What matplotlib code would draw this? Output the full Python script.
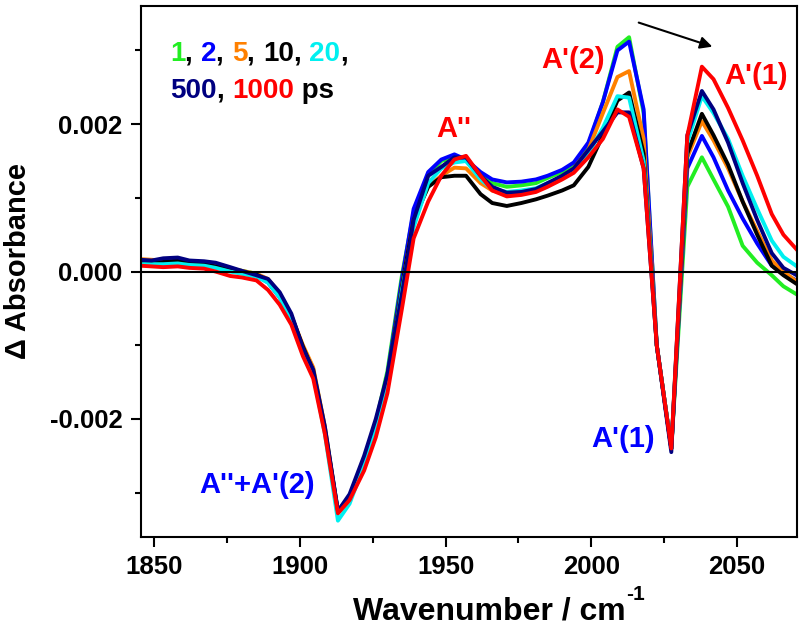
"""Time-resolved IR difference spectra (Delta absorbance vs wavenumber)."""

import matplotlib
matplotlib.use("Agg")
import matplotlib.pyplot as plt
import numpy as np
from matplotlib.offsetbox import AnchoredOffsetbox, HPacker, TextArea, VPacker
from matplotlib.ticker import FormatStrFormatter, MultipleLocator

plt.rcParams["font.family"] = ["Liberation Sans", "DejaVu Sans"]
plt.rcParams["font.weight"] = "bold"
plt.rcParams["axes.unicode_minus"] = False

# wavenumber grid, cm-1
wavenumber = [
    1845, 1849, 1853, 1858, 1862, 1867, 1871, 1876, 1880, 1885,
    1889, 1893, 1897, 1901, 1904.5, 1908.5, 1913, 1917, 1922, 1926,
    1930, 1935, 1939, 1944, 1948.5, 1953, 1957, 1962, 1966, 1971,
    1976, 1981, 1985, 1990, 1994, 1999, 2004, 2009, 2013, 2018,
    2022.5, 2027.5, 2033, 2038, 2042, 2047, 2052, 2057, 2062, 2066,
    2071,
]

# delta absorbance in units of 1e-3
abs_1ps = [
    0.12, 0.12, 0.12, 0.14, 0.12, 0.11, 0.08, 0.04, 0.01, -0.03,
    -0.12, -0.32, -0.62, -1.02, -1.32, -2.12, -3.25, -3.07, -2.55, -2.05,
    -1.35, -0.05, 0.80, 1.30, 1.50, 1.55, 1.50, 1.32, 1.20, 1.15,
    1.17, 1.20, 1.27, 1.35, 1.45, 1.72, 2.30, 3.05, 3.18, 2.15,
    -1.00, -2.40, 1.15, 1.55, 1.25, 0.88, 0.35, 0.12, -0.05, -0.20,
    -0.32,
]
abs_2ps = [
    0.15, 0.14, 0.14, 0.17, 0.12, 0.12, 0.08, 0.03, 0.00, -0.05,
    -0.15, -0.35, -0.65, -1.05, -1.35, -2.15, -3.25, -3.05, -2.60, -2.10,
    -1.40, -0.10, 0.85, 1.35, 1.52, 1.59, 1.52, 1.35, 1.25, 1.21,
    1.22, 1.25, 1.30, 1.38, 1.48, 1.75, 2.30, 3.00, 3.12, 2.20,
    -1.00, -2.40, 1.40, 1.84, 1.55, 1.10, 0.72, 0.38, 0.08, -0.03,
    -0.13,
]
abs_5ps = [
    0.17, 0.16, 0.15, 0.14, 0.13, 0.12, 0.09, 0.04, 0.01, -0.03,
    -0.10, -0.30, -0.60, -1.00, -1.30, -2.10, -3.28, -3.08, -2.60, -2.10,
    -1.45, -0.20, 0.70, 1.15, 1.30, 1.41, 1.40, 1.20, 1.10, 1.05,
    1.07, 1.10, 1.17, 1.27, 1.40, 1.65, 2.15, 2.64, 2.72, 1.80,
    -1.00, -2.40, 1.55, 2.04, 1.78, 1.40, 0.95, 0.55, 0.15, 0.00,
    -0.15,
]
abs_10ps = [
    0.12, 0.12, 0.13, 0.15, 0.11, 0.10, 0.07, 0.03, 0.00, -0.04,
    -0.12, -0.30, -0.60, -1.02, -1.35, -2.15, -3.27, -3.07, -2.58, -2.10,
    -1.45, -0.20, 0.70, 1.15, 1.28, 1.30, 1.30, 1.05, 0.93, 0.89,
    0.93, 0.98, 1.03, 1.10, 1.17, 1.42, 1.85, 2.32, 2.43, 1.60,
    -1.00, -2.40, 1.60, 2.14, 1.85, 1.45, 0.95, 0.50, 0.08, -0.05,
    -0.18,
]
abs_20ps = [
    0.10, 0.10, 0.10, 0.11, 0.09, 0.08, 0.05, 0.00, -0.03, -0.07,
    -0.15, -0.35, -0.65, -1.08, -1.38, -2.20, -3.38, -3.15, -2.62, -2.15,
    -1.50, -0.25, 0.60, 1.20, 1.40, 1.48, 1.50, 1.25, 1.12, 1.08,
    1.10, 1.13, 1.20, 1.28, 1.38, 1.60, 1.95, 2.38, 2.36, 1.50,
    -1.00, -2.40, 1.75, 2.38, 2.15, 1.80, 1.30, 0.85, 0.42, 0.20,
    0.06,
]
abs_500ps = [
    0.16, 0.15, 0.18, 0.19, 0.15, 0.14, 0.12, 0.06, 0.01, -0.05,
    -0.10, -0.28, -0.57, -1.04, -1.33, -2.10, -3.25, -3.02, -2.50, -2.00,
    -1.40, -0.30, 0.70, 1.30, 1.42, 1.55, 1.55, 1.30, 1.15, 1.07,
    1.08, 1.12, 1.20, 1.30, 1.40, 1.65, 1.90, 2.16, 2.16, 1.40,
    -1.00, -2.45, 1.85, 2.45, 2.20, 1.75, 1.20, 0.70, 0.25, 0.05,
    -0.06,
]
abs_1000ps = [
    0.08, 0.07, 0.06, 0.07, 0.05, 0.04, 0.00, -0.06, -0.08, -0.12,
    -0.25, -0.45, -0.72, -1.15, -1.45, -2.20, -3.28, -3.10, -2.70, -2.25,
    -1.65, -0.50, 0.45, 0.95, 1.30, 1.52, 1.57, 1.30, 1.10, 1.02,
    1.04, 1.08, 1.15, 1.25, 1.34, 1.55, 1.80, 2.20, 2.10, 1.40,
    -1.00, -2.40, 1.84, 2.78, 2.61, 2.22, 1.78, 1.30, 0.78, 0.50,
    0.28,
]

delay_labels = ["1", "2", "5", "10", "20", "500", "1000"]
series = [abs_1ps, abs_2ps, abs_5ps, abs_10ps, abs_20ps, abs_500ps, abs_1000ps]
colors = ["#22ee22", "#0000ff", "#ff8000", "#000000", "#00f0f0", "#000080", "#ff0000"]

BLUE = "#0000ff"
RED = "#ff0000"

fig = plt.figure(figsize=(8, 6.25), dpi=100)
ax = fig.add_axes([0.176, 0.141, 0.820, 0.849])

for values, color in zip(series, colors):
    ax.plot(wavenumber, np.array(values) * 1e-3, color=color, lw=2.8, zorder=2)

ax.axhline(0, color="black", lw=1.5, zorder=3)

ax.set_xlim(1845.3, 2070.6)
ax.set_ylim(-0.0036, 0.0036)
ax.xaxis.set_major_locator(MultipleLocator(50))
ax.xaxis.set_minor_locator(MultipleLocator(25))
ax.yaxis.set_major_locator(MultipleLocator(0.002))
ax.yaxis.set_minor_locator(MultipleLocator(0.001))
ax.yaxis.set_major_formatter(FormatStrFormatter("%.3f"))

for side in ax.spines.values():
    side.set_linewidth(1.5)
ax.tick_params(which="major", direction="out", length=7, width=1.5,
               labelsize=18.5, pad=6)
ax.tick_params(which="minor", direction="out", length=4.5, width=1.5)

# axis titles; the -1 exponent is set as its own text so it keeps a plain hyphen
ax.set_xlabel("Wavenumber / cm", fontsize=23, fontweight="bold")
ax.xaxis.set_label_coords(0.532, -0.112)
fig.text(626 / 800, 1 - 595 / 625, "-1", fontsize=15, fontweight="bold",
         ha="left", va="center")
ax.set_ylabel("\u0394 Absorbance", fontsize=21, fontweight="bold")
ax.yaxis.set_label_coords(-0.166, 0.52)

# band assignments
ax.text(1952.7, 0.00193, "A''", color=RED, fontsize=21, ha="center", va="center")
ax.text(1993.6, 0.00287, "A'(2)", color=RED, fontsize=21, ha="center", va="center")
ax.text(2056.5, 0.00265, "A'(1)", color=RED, fontsize=21, ha="center", va="center")
ax.text(2011.0, -0.00227, "A'(1)", color=BLUE, fontsize=21, ha="center", va="center")
ax.text(1885.2, -0.00290, "A''+A'(2)", color=BLUE, fontsize=21, ha="center", va="center")

ax.annotate("", xy=(2042.5, 0.00304), xytext=(2015.4, 0.00339),
            arrowprops=dict(arrowstyle="-|>", color="black", lw=1.5,
                            mutation_scale=18))

# coloured delay list
def text_row(pieces):
    boxes = [TextArea(t, textprops=dict(color=c, fontsize=20, fontweight="bold"))
             for t, c in pieces]
    return HPacker(children=boxes, align="baseline", pad=0, sep=0)


row1 = text_row([
    (delay_labels[0], colors[0]), (", ", "black"),
    (delay_labels[1], colors[1]), (", ", "black"),
    (delay_labels[2], colors[2]), (", ", "black"),
    (delay_labels[3], colors[3]), (", ", "black"),
    (delay_labels[4], colors[4]), (",", "black"),
])
row2 = text_row([
    (delay_labels[5], colors[5]), (", ", "black"),
    (delay_labels[6], colors[6]), (" ps", "black"),
])
legend_box = VPacker(children=[row1, row2], align="left", pad=0, sep=8)
anchored = AnchoredOffsetbox(loc="upper left", child=legend_box, pad=0,
                             borderpad=0, frameon=False,
                             bbox_to_anchor=(0.0446, 0.935),
                             bbox_transform=ax.transAxes)
ax.add_artist(anchored)

fig.savefig("out.png", dpi=100)
plt.close(fig)
